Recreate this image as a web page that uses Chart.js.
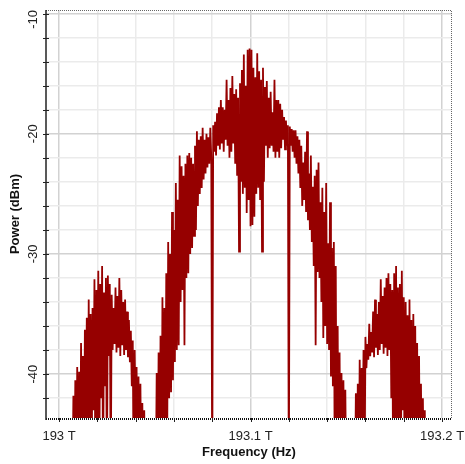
<!DOCTYPE html>
<html>
<head>
<meta charset="utf-8">
<script src="https://cdn.jsdelivr.net/npm/chart.js@4.4.1/dist/chart.umd.min.js"></script>
<style>
  html, body { margin: 0; padding: 0; background: #fff; }
  canvas { display: block; }
</style>
</head>
<body>
<canvas id="spectrumChart" width="465" height="464"></canvas>
<script>
// sampling grid of the spectrum (THz)
const freqStart = 193.005;
const freqStep = 0.0005;

// power, dBm (-50 = below the visible floor)
const powerDbm = [
  -50, -50, -50, -50, -50, -41.8, -50, -40.5, -50, -39.4,
  -50, -39.8, -50, -37.4, -46, -38.5, -50, -36.3, -44, -35.3,
  -50, -33.8, -45, -35, -50, -34.5, -43, -32.1, -50, -33,
  -44, -31.4, -50, -32.5, -42, -31.0, -50, -33.2, -41, -32,
  -50, -31.8, -38.5, -32.5, -50, -33.4, -38, -34.5, -37.5, -32.8,
  -38.2, -33.5, -37.8, -32, -38.5, -33, -37.6, -34, -38.4, -33.8,
  -38, -34.8, -38.6, -35.5, -39, -36.4, -41, -37.2, -50, -38,
  -44, -39.4, -50, -40.2, -50, -40.8, -50, -42.4, -50, -43,
  -50, -50, -50, -50, -50, -50, -50, -50, -50, -50,
  -50, -50, -39.9, -50, -38.2, -50, -36.8, -50, -33.6, -50,
  -34.5, -46, -31.6, -45, -29, -42, -30, -41.5, -26.5, -40.5,
  -28, -39, -24.1, -38, -25.5, -37.6, -21.8, -34, -22.7, -33,
  -23.5, -37.6, -22.5, -32, -21.8, -31.6, -21.6, -30, -22, -29.5,
  -22.5, -28.5, -21, -28, -19.8, -26, -20.5, -25, -20.2, -24.5,
  -19.5, -23.8, -20.5, -23.3, -20, -22.8, -20.3, -22.5, -19.5, -22,
  -50, -19.3, -21.5, -19, -21.8, -18.3, -21, -17.8, -21.3, -17.2,
  -20.8, -17.8, -21.5, -18, -20.5, -15.5, -21, -17.2, -22, -16.2,
  -21.5, -15.2, -20.8, -16.7, -22.5, -16.3, -23.5, -17, -29.8, -15.8,
  -24, -14.7, -25, -13.4, -24.5, -16, -26.6, -13, -25.5, -12.9,
  -27.7, -13, -27.6, -14.5, -26.9, -15.3, -25, -13.3, -24.5, -14.8,
  -25.5, -15.5, -29.8, -14.5, -24, -16.1, -21, -15.6, -22, -17,
  -21.2, -16.5, -21, -18.2, -21.5, -15.5, -22, -17.2, -21.5, -17.2,
  -22, -17.5, -21.2, -18, -20.5, -18.6, -21.3, -18.9, -21, -19.3,
  -50, -19.4, -21, -19.6, -21.5, -19.7, -22, -19.7, -22.5, -20.2,
  -23.3, -20.5, -24.5, -21, -26, -22.4, -25.5, -21.5, -26.5, -19.8,
  -27.2, -23.3, -28, -21.8, -29, -24.4, -31, -23.5, -37.6, -23,
  -31.5, -22.4, -32, -25.7, -34, -24.5, -37, -26.5, -36, -24.1,
  -37.5, -29.1, -38, -25.7, -40.2, -29.5, -41, -29, -50, -31,
  -50, -36, -50, -38.2, -50, -39.9, -50, -40.5, -50, -41.3,
  -50, -50, -50, -50, -50, -50, -50, -50, -50, -50,
  -41.6, -50, -40.8, -50, -38.8, -50, -39.5, -46, -38, -50,
  -36.9, -39.5, -37.5, -38.8, -35.8, -38.5, -36.5, -38.2, -34.8, -38.6,
  -33.8, -37.8, -35, -38.4, -34, -38, -32.1, -37.5, -33.5, -38.3,
  -32.8, -37.8, -32, -38.5, -31.6, -38, -32.5, -42, -33, -50,
  -31.6, -44, -31, -50, -32.8, -45, -32.5, -50, -31.4, -43,
  -33.6, -50, -34, -44, -35.1, -50, -33.8, -46, -35.5, -50,
  -35, -44, -36, -50, -37.4, -50, -38.5, -50, -40.8, -50,
  -42, -50, -43, -50, -50, -50, -50, -50, -50, -50,
  -50
];

// grid and tick labels
const freqGrid = [193, 193.02, 193.04, 193.06, 193.08, 193.1, 193.12, 193.14, 193.16, 193.18, 193.2];
const freqTicks = [193, 193.1, 193.2];
const freqTickLabels = ['193 T', '193.1 T', '193.2 T'];
const powerGrid = [-42, -40, -38, -36, -34, -32, -30, -28, -26, -24, -22, -20, -18, -16, -14, -12, -10];
const powerTicks = [-40, -30, -20, -10];
const powerTickLabels = ['-40', '-30', '-20', '-10'];

const points = powerDbm.map((p, i) => ({ x: freqStart + i * freqStep, y: p }));

const isMajor = (v, unit) => Math.abs(v / unit - Math.round(v / unit)) < 1e-6;

// axis lines, tick marks and labels drawn over the plot
const axisDecor = {
  id: 'axisDecor',
  afterDraw(chart) {
    const { ctx, chartArea: a, scales: { x, y } } = chart;
    ctx.save();

    // dotted frame top and right
    ctx.strokeStyle = '#666';
    ctx.lineWidth = 1;
    ctx.setLineDash([1, 1]);
    ctx.beginPath();
    ctx.moveTo(a.left, a.top + 0.5);
    ctx.lineTo(a.right - 0.5, a.top + 0.5);
    ctx.lineTo(a.right - 0.5, a.bottom);
    ctx.stroke();

    // bottom axis
    ctx.strokeStyle = '#111';
    ctx.lineWidth = 2;
    ctx.beginPath();
    ctx.moveTo(a.left, a.bottom + 1);
    ctx.lineTo(a.right, a.bottom + 1);
    ctx.stroke();
    ctx.setLineDash([]);

    // left axis
    ctx.strokeStyle = '#222';
    ctx.lineWidth = 1.5;
    ctx.beginPath();
    ctx.moveTo(a.left, a.top);
    ctx.lineTo(a.left, a.bottom + 2);
    ctx.stroke();

    // y tick marks
    ctx.lineWidth = 1;
    powerGrid.forEach(v => {
      const py = Math.round(y.getPixelForValue(v)) + 0.5;
      ctx.beginPath();
      ctx.moveTo(a.left - 3, py);
      ctx.lineTo(a.left + 3, py);
      ctx.stroke();
    });
    // x tick marks
    freqGrid.forEach(v => {
      const px = Math.round(x.getPixelForValue(v)) + 0.5;
      ctx.beginPath();
      ctx.moveTo(px, a.bottom);
      ctx.lineTo(px, a.bottom + 4);
      ctx.stroke();
    });

    ctx.fillStyle = '#222';
    ctx.font = '13px "Liberation Sans", Arial, sans-serif';
    ctx.textAlign = 'center';
    ctx.textBaseline = 'middle';

    freqTicks.forEach((v, i) => {
      ctx.fillText(freqTickLabels[i], x.getPixelForValue(v), 436);
    });

    powerTicks.forEach((v, i) => {
      const label = powerTickLabels[i];
      const half = ctx.measureText(label).width / 2;
      const py = Math.max(y.getPixelForValue(v), a.top + half);
      ctx.save();
      ctx.translate(33, py);
      ctx.rotate(-Math.PI / 2);
      ctx.fillText(label, 0, 0);
      ctx.restore();
    });

    ctx.restore();
  }
};

const config = {
  type: 'line',
  data: {
    datasets: [{
      label: 'Power',
      data: points,
      borderColor: '#960000',
      borderWidth: 1.8,
      pointRadius: 0,
      tension: 0,
      fill: false
    }]
  },
  options: {
    responsive: false,
    animation: false,
    devicePixelRatio: 1,
    layout: { padding: { top: 10, right: 13, left: 0, bottom: 0 } },
    plugins: {
      legend: { display: false },
      tooltip: { enabled: false }
    },
    scales: {
      x: {
        type: 'linear',
        min: 192.9932,
        max: 193.2052,
        afterBuildTicks: s => { s.ticks = freqGrid.map(v => ({ value: v })); },
        afterFit: s => { s.height = 46; },
        ticks: { display: false },
        border: { display: false },
        grid: {
          drawTicks: false,
          color: c => isMajor(c.tick.value, 0.1) ? '#d2d2d2' : '#ebebeb',
          lineWidth: 1.5
        },
        title: {
          display: true,
          text: 'Frequency (Hz)',
          color: '#111',
          font: { family: '"Liberation Sans", Arial, sans-serif', size: 13, weight: 'bold' },
          padding: { top: 0, bottom: 4 }
        }
      },
      y: {
        min: -43.65,
        max: -9.7,
        afterBuildTicks: s => { s.ticks = powerGrid.map(v => ({ value: v })); },
        afterFit: s => { s.width = 46; },
        ticks: { display: false },
        border: { display: false },
        grid: {
          drawTicks: false,
          color: c => isMajor(c.tick.value, 10) ? '#d2d2d2' : '#ebebeb',
          lineWidth: 1.5
        },
        title: {
          display: true,
          text: 'Power (dBm)',
          color: '#111',
          font: { family: '"Liberation Sans", Arial, sans-serif', size: 13, weight: 'bold' },
          padding: { top: 8, bottom: 0 }
        }
      }
    }
  },
  plugins: [axisDecor]
};

const ctx = document.getElementById('spectrumChart').getContext('2d');
new Chart(ctx, config);
</script>
</body>
</html>
